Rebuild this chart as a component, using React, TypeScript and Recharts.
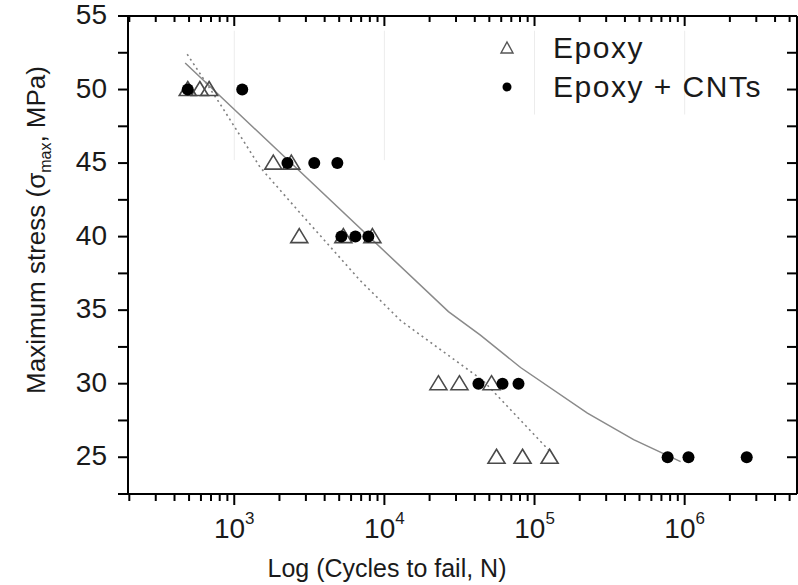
import {
  ScatterChart,
  Scatter,
  XAxis,
  YAxis,
  Legend,
  ReferenceLine,
} from "recharts";

const FONT = "Arial, 'Liberation Sans', Helvetica, sans-serif";

// cycles to failure (N) at each stress level, MPa
const epoxyCycles = [490, 590, 680, 1820, 2400, 2710, 5330, 8320, 22900, 31600, 51700, 55800, 83200, 126000];
const epoxyStress = [50, 50, 50, 45, 45, 40, 40, 40, 30, 30, 30, 25, 25, 25];

const cntCycles = [490, 1130, 2260, 3410, 4860, 5170, 6410, 7820, 42300, 61200, 78200, 770000, 1060000, 2590000];
const cntStress = [50, 50, 45, 45, 45, 40, 40, 40, 30, 30, 30, 25, 25, 25];

// fitted S-N curves
const epoxyFitCycles = [486, 807, 1490, 2750, 6920, 12800, 45500, 124000];
const epoxyFitStress = [52.4, 49.0, 44.7, 41.6, 37.0, 34.3, 30.2, 25.5];

const cntFitCycles = [471, 26700, 43600, 80700, 225000, 457000, 940000];
const cntFitStress = [51.8, 34.9, 33.3, 31.1, 28.0, 26.2, 24.7];

const X_DOMAIN = [196, 5.6e6];
const X_MAJOR = [1e3, 1e4, 1e5, 1e6];
const X_MINOR = [
  200, 300, 400, 500, 600, 700, 800, 900,
  2000, 3000, 4000, 5000, 6000, 7000, 8000, 9000,
  20000, 30000, 40000, 50000, 60000, 70000, 80000, 90000,
  200000, 300000, 400000, 500000, 600000, 700000, 800000, 900000,
  2000000, 3000000, 4000000, 5000000,
];
const X_TICKS = [...X_MINOR, ...X_MAJOR].sort((a, b) => a - b);

const Y_DOMAIN = [22.5, 55];
const Y_MAJOR = [25, 30, 35, 40, 45, 50, 55];
const Y_MINOR = [22.5, 27.5, 32.5, 37.5, 42.5, 47.5, 52.5];
const Y_TICKS = [...Y_MINOR, ...Y_MAJOR].sort((a, b) => a - b);

// faint vertical guides in the upper part of the frame
const guideX = [1e3, 1e4, 1e5, 1e6];
const guideTop = [54, 54, 54, 54];
const guideBottom = [45.2, 45.2, 48.3, 48.3];

const toPoints = (xs: number[], ys: number[]) => xs.map((n, i) => ({ n, s: ys[i] }));

const epoxyData = toPoints(epoxyCycles, epoxyStress);
const cntData = toPoints(cntCycles, cntStress);
const epoxyFit = toPoints(epoxyFitCycles, epoxyFitStress);
const cntFit = toPoints(cntFitCycles, cntFitStress);

const BottomTick = (props: any) => {
  const { x, y, payload } = props;
  const major = X_MAJOR.includes(payload.value);
  const exp = Math.round(Math.log10(payload.value));
  return (
    <g>
      <line x1={x} x2={x} y1={y} y2={y + (major ? 11 : 7)} stroke="#000" strokeWidth={2} />
      {major && (
        <text x={x} y={y + 44} textAnchor="middle" fontSize={28} fontFamily={FONT} fill="#1a1a1a">
          10
          <tspan dy={-14} fontSize={17}>
            {exp}
          </tspan>
        </text>
      )}
    </g>
  );
};

const TopTick = (props: any) => {
  const { x, y, payload } = props;
  const major = X_MAJOR.includes(payload.value);
  return <line x1={x} x2={x} y1={y} y2={y + (major ? 10 : 6)} stroke="#000" strokeWidth={2} />;
};

const LeftTick = (props: any) => {
  const { x, y, payload } = props;
  const major = Y_MAJOR.includes(payload.value);
  return (
    <g>
      <line x1={x - 10} x2={x} y1={y} y2={y} stroke="#000" strokeWidth={2} />
      {major && (
        <text x={x - 21} y={y + 8} textAnchor="end" fontSize={28} fontFamily={FONT} fill="#1a1a1a">
          {payload.value}
        </text>
      )}
    </g>
  );
};

const RightTick = (props: any) => {
  const { x, y } = props;
  return <line x1={x - 10} x2={x} y1={y} y2={y} stroke="#000" strokeWidth={2} />;
};

const Triangle = (props: any) => {
  const { cx, cy } = props;
  return (
    <path
      d={`M${cx},${cy - 8} L${cx + 8.5},${cy + 6} L${cx - 8.5},${cy + 6} Z`}
      fill="none"
      stroke="#4a4a4a"
      strokeWidth={1.6}
    />
  );
};

const Dot = (props: any) => <circle cx={props.cx} cy={props.cy} r={6} fill="#000" />;

const NoMark = () => <g />;

const YTitle = () => (
  <text
    transform="translate(45,230) rotate(-90)"
    textAnchor="middle"
    fontSize={26}
    fontFamily={FONT}
    fill="#1a1a1a"
  >
    Maximum stress (σ
    <tspan fontSize={16} dy={6}>
      max
    </tspan>
    <tspan dy={-6}>, MPa)</tspan>
  </text>
);

const XTitle = () => (
  <text x={387} y={577} textAnchor="middle" fontSize={25} fontFamily={FONT} fill="#1a1a1a">
    Log (Cycles to fail, N)
  </text>
);

const LegendBox = () => {
  const row = { display: "flex", alignItems: "center", height: 39 };
  const text = { fontFamily: FONT, fontSize: 30, color: "#1a1a1a", marginLeft: 34, letterSpacing: 1.5 };
  return (
    <div>
      <div style={row}>
        <svg width={24} height={24}>
          <path d="M12,6 L18,17 L6,17 Z" fill="none" stroke="#555" strokeWidth={1.4} />
        </svg>
        <span style={text}>Epoxy</span>
      </div>
      <div style={row}>
        <svg width={24} height={24}>
          <circle cx={12} cy={12} r={4.5} fill="#000" />
        </svg>
        <span style={text}>Epoxy + CNTs</span>
      </div>
    </div>
  );
};

export default function App() {
  return (
    <div style={{ position: "absolute", left: 0, top: 0, background: "#fff" }}>
      <ScatterChart width={798} height={585} margin={{ top: 15, right: 0, bottom: 0, left: 0 }}>
        <XAxis
          xAxisId="b"
          dataKey="n"
          type="number"
          scale="log"
          domain={X_DOMAIN}
          allowDataOverflow
          ticks={X_TICKS}
          interval={0}
          tickSize={0}
          tickMargin={0}
          tickLine={false}
          tick={<BottomTick />}
          axisLine={{ stroke: "#000", strokeWidth: 2 }}
          height={91}
          label={<XTitle />}
        />
        <XAxis
          xAxisId="t"
          dataKey="n"
          orientation="top"
          type="number"
          scale="log"
          domain={X_DOMAIN}
          allowDataOverflow
          ticks={X_TICKS}
          interval={0}
          tickSize={0}
          tickMargin={0}
          tickLine={false}
          tick={<TopTick />}
          axisLine={{ stroke: "#000", strokeWidth: 2 }}
          height={1}
        />
        <YAxis
          yAxisId="l"
          dataKey="s"
          type="number"
          domain={Y_DOMAIN}
          allowDataOverflow
          ticks={Y_TICKS}
          interval={0}
          tickSize={0}
          tickMargin={0}
          tickLine={false}
          tick={<LeftTick />}
          axisLine={{ stroke: "#000", strokeWidth: 2 }}
          width={128}
          label={<YTitle />}
        />
        <YAxis
          yAxisId="r"
          dataKey="s"
          orientation="right"
          type="number"
          domain={Y_DOMAIN}
          allowDataOverflow
          ticks={Y_TICKS}
          interval={0}
          tickSize={0}
          tickMargin={0}
          tickLine={false}
          tick={<RightTick />}
          axisLine={{ stroke: "#000", strokeWidth: 2 }}
          width={1}
        />
        {guideX.map((gx, i) => (
          <ReferenceLine
            key={gx}
            xAxisId="b"
            yAxisId="l"
            segment={[
              { x: gx, y: guideTop[i] },
              { x: gx, y: guideBottom[i] },
            ]}
            stroke="#ececec"
            strokeWidth={1}
          />
        ))}
        <Scatter
          xAxisId="b"
          yAxisId="l"
          data={epoxyFit}
          line={{ stroke: "#808080", strokeWidth: 1.6, strokeDasharray: "2 3.5" }}
          shape={<NoMark />}
          isAnimationActive={false}
        />
        <Scatter
          xAxisId="b"
          yAxisId="l"
          data={cntFit}
          line={{ stroke: "#8a8a8a", strokeWidth: 1.5 }}
          shape={<NoMark />}
          isAnimationActive={false}
        />
        <Scatter xAxisId="b" yAxisId="l" data={epoxyData} shape={<Triangle />} isAnimationActive={false} />
        <Scatter xAxisId="b" yAxisId="l" data={cntData} shape={<Dot />} isAnimationActive={false} />
        <Legend
          layout="vertical"
          align="center"
          verticalAlign="middle"
          content={<LegendBox />}
          wrapperStyle={{ top: 28, left: 495, width: "auto", height: "auto" }}
        />
      </ScatterChart>
    </div>
  );
}
